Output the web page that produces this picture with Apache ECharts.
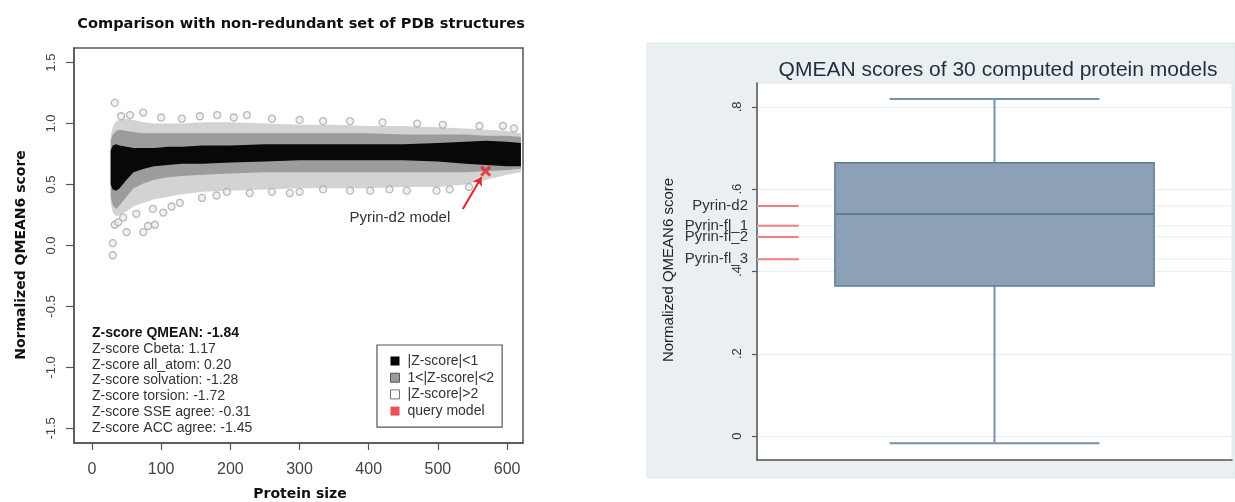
<!DOCTYPE html>
<html><head><meta charset="utf-8">
<script src="https://cdn.jsdelivr.net/npm/echarts@6/dist/echarts.min.js"></script>
<style>html,body{margin:0;padding:0;background:#fff}#c{width:1235px;height:502px}</style>
</head><body><div id="c"></div>
<script>
// ---------------- data ----------------
const leftTitle = 'Comparison with non-redundant set of PDB structures';
const rightTitle = 'QMEAN scores of 30 computed protein models';
const leftXName = 'Protein size';
const leftYName = 'Normalized QMEAN6 score';
const rightYName = 'Normalized QMEAN6 score';
const sizeTicks = [0, 100, 200, 300, 400, 500, 600];
const scoreTicks = [-1.5, -1.0, -0.5, 0.0, 0.5, 1.0, 1.5];

// envelope of the reference cloud (protein size -> score bounds)
const bandX   = [27, 30, 35, 40, 50, 60, 75, 90, 110, 130, 160, 200, 250, 300, 350, 400, 450, 500, 540, 570, 600, 620];
const outerHi = [0.90, 0.97, 1.02, 1.03, 1.04, 1.03, 1.01, 1.00, 1.00, 1.00, 1.01, 1.01, 1.00, 0.99, 0.99, 0.98, 0.98, 0.97, 0.96, 0.95, 0.94, 0.92];
const outerLo = [0.35, 0.27, 0.24, 0.25, 0.28, 0.32, 0.35, 0.38, 0.40, 0.42, 0.44, 0.45, 0.46, 0.47, 0.47, 0.47, 0.48, 0.48, 0.50, 0.54, 0.58, 0.60];
const midHi   = [0.86, 0.91, 0.94, 0.95, 0.94, 0.93, 0.92, 0.92, 0.92, 0.92, 0.92, 0.92, 0.92, 0.92, 0.92, 0.92, 0.91, 0.91, 0.91, 0.90, 0.90, 0.89];
const midLo   = [0.40, 0.33, 0.30, 0.33, 0.40, 0.47, 0.51, 0.54, 0.56, 0.57, 0.58, 0.59, 0.60, 0.60, 0.60, 0.60, 0.60, 0.60, 0.60, 0.61, 0.62, 0.63];
const coreHi  = [0.78, 0.82, 0.83, 0.82, 0.81, 0.80, 0.80, 0.80, 0.81, 0.81, 0.82, 0.82, 0.83, 0.83, 0.83, 0.83, 0.83, 0.84, 0.85, 0.86, 0.85, 0.84];
const coreLo  = [0.50, 0.46, 0.45, 0.47, 0.54, 0.60, 0.63, 0.65, 0.66, 0.67, 0.67, 0.68, 0.69, 0.70, 0.70, 0.70, 0.70, 0.69, 0.67, 0.66, 0.65, 0.65];
// individual structures outside the envelope
const outlierPoints = [
  [33, 1.17], [30, 0.02], [30, -0.08], [33, 0.17], [38, 0.19], [45, 0.23], [50, 0.11], [64, 0.26],
  [74, 0.11], [81, 0.16], [91, 0.17], [88, 0.30], [103, 0.27], [115, 0.32], [127, 0.35], [159, 0.39],
  [180, 0.41], [195, 0.44], [228, 0.43], [260, 0.44], [286, 0.43], [300, 0.44], [334, 0.46], [373, 0.45],
  [402, 0.45], [430, 0.46], [455, 0.45], [498, 0.45], [517, 0.46], [545, 0.48],
  [42, 1.06], [55, 1.07], [74, 1.09], [100, 1.05], [130, 1.04], [156, 1.06], [181, 1.07], [205, 1.05],
  [224, 1.07], [260, 1.04], [300, 1.03], [334, 1.02], [373, 1.02], [420, 1.01], [470, 1.00], [507, 0.99],
  [560, 0.98], [594, 0.98], [610, 0.96]
];
const queryModel = [569, 0.61];
const arrowFrom = [536, 0.30];
const arrowTo = [563, 0.56];
const queryLabel = 'Pyrin-d2 model';
const queryLabelAt = [445, 0.23];
const zScoreNames = ['Z-score QMEAN', 'Z-score Cbeta', 'Z-score all_atom', 'Z-score solvation', 'Z-score torsion', 'Z-score SSE agree', 'Z-score ACC agree'];
const zScoreValues = [-1.84, 1.17, 0.20, -1.28, -1.72, -0.31, -1.45];
const legendNames = ['|Z-score|<1', '1<|Z-score|<2', '|Z-score|>2', 'query model'];

// right panel: boxplot of 30 models
const qTicks = [0, 0.2, 0.4, 0.6, 0.8];
const boxStats = [-0.017, 0.365, 0.540, 0.664, 0.819]; // min, Q1, median, Q3, max
const pyrinNames = ['Pyrin-d2', 'Pyrin-fl_1', 'Pyrin-fl_2', 'Pyrin-fl_3'];
const pyrinScores = [0.559, 0.511, 0.484, 0.430];

// ---------------- chart ----------------
const chart = echarts.init(document.getElementById('c'), null, {renderer: 'canvas'});
const SANS = '"Liberation Sans", Arial, Helvetica, sans-serif';
const BOLD = '"DejaVu Sans", sans-serif';

function band(name, lo, hi, fill) {
  return {
    type: 'custom', name, xAxisIndex: 0, yAxisIndex: 0, silent: true,
    itemStyle: {color: fill},
    data: bandX.map((x, i) => [x, lo[i], hi[i]]),
    renderItem(params, api) {
      if (params.dataIndex !== 0) return null;
      const pts = [];
      for (let i = 0; i < bandX.length; i++) pts.push(api.coord([bandX[i], hi[i]]));
      for (let i = bandX.length - 1; i >= 0; i--) pts.push(api.coord([bandX[i], lo[i]]));
      return {type: 'polygon', shape: {points: pts}, style: {fill: fill}};
    }
  };
}
function txt(x, y, text, font, fill, align, rot) {
  return {type: 'text', x, y, rotation: rot || 0, style: {text, font, fill,
    textAlign: align || 'center', textVerticalAlign: 'middle', align: align || 'center', verticalAlign: 'middle'}};
}

const graphics = [
  {type: 'rect', z: -100, shape: {x: 647, y: 43, width: 588, height: 435},
   style: {fill: '#eaf0f2', stroke: '#e0e8eb', lineWidth: 1}},
  txt(301, 24, leftTitle, 'bold 14.6px ' + BOLD, '#111'),
  txt(300, 494, leftXName, 'bold 14px ' + BOLD, '#111'),
  txt(21, 255, leftYName, 'bold 14px ' + BOLD, '#111', 'center', Math.PI / 2),
  txt(998, 70, rightTitle, '21px ' + SANS, '#1e2f3e'),
  txt(669, 270, rightYName, '15px ' + SANS, '#222', 'center', Math.PI / 2)
];
zScoreNames.forEach((n, i) => {
  graphics.push(txt(92, 333 + i * 15.83, n + ': ' + zScoreValues[i].toFixed(2),
    (i === 0 ? 'bold ' : '') + '14px ' + SANS, i === 0 ? '#111' : '#333', 'left'));
});

const option = {
  animation: false,
  backgroundColor: '#fff',
  textStyle: {fontFamily: SANS},
  graphic: {elements: graphics},
  legend: {
    left: 377, top: 345, orient: 'vertical', selectedMode: false,
    padding: [9, 8, 9, 13], itemGap: 2.7, itemWidth: 9, itemHeight: 9,
    borderColor: '#555', borderWidth: 1.2, backgroundColor: '#fff',
    textStyle: {fontFamily: SANS, fontSize: 14, color: '#333', padding: [0, 0, 0, 3]},
    data: [
      {name: legendNames[0], icon: 'rect', itemStyle: {color: '#000'}},
      {name: legendNames[1], icon: 'rect', itemStyle: {color: '#9a9a9a', borderColor: '#555', borderWidth: 1}},
      {name: legendNames[2], icon: 'rect', itemStyle: {color: '#fff', borderColor: '#777', borderWidth: 1}},
      {name: legendNames[3], icon: 'rect', itemStyle: {color: '#e8202a'}}
    ]
  },
  grid: [
    {left: 74, top: 48, width: 449, height: 395, show: true, borderColor: '#555', borderWidth: 1.5, backgroundColor: 'transparent'},
    {left: 757, top: 83, width: 475, height: 377, show: true, borderColor: '#dfe8ec', borderWidth: 1, backgroundColor: '#fff'}
  ],
  xAxis: [
    {type: 'value', gridIndex: 0, min: -26, max: 623,
     axisLine: {show: true, onZero: false, lineStyle: {color: '#555', width: 1.5}},
     axisTick: {show: true, length: 7, customValues: sizeTicks, lineStyle: {color: '#555', width: 1.2}},
     axisLabel: {customValues: sizeTicks, margin: 19, fontFamily: SANS, fontSize: 16, color: '#444'},
     splitLine: {show: false}},
    {type: 'value', gridIndex: 1, min: 0, max: 1,
     axisLine: {show: true, onZero: false, lineStyle: {color: '#555', width: 1.5}},
     axisTick: {show: false}, axisLabel: {show: false}, splitLine: {show: false}}
  ],
  yAxis: [
    {type: 'value', gridIndex: 0, min: -1.62, max: 1.62,
     axisLine: {show: true, onZero: false, lineStyle: {color: '#555', width: 1.5}},
     axisTick: {show: true, length: 8, customValues: scoreTicks, lineStyle: {color: '#555', width: 1.2}},
     axisLabel: {customValues: scoreTicks, rotate: 90, margin: 16, fontFamily: SANS, fontSize: 13, color: '#444',
       formatter: v => v.toFixed(1)},
     splitLine: {show: false}},
    {type: 'value', gridIndex: 1, min: -0.058, max: 0.858,
     axisLine: {show: true, onZero: false, lineStyle: {color: '#555', width: 1.5}},
     axisTick: {show: true, length: 5, customValues: qTicks, lineStyle: {color: '#555', width: 1.2}},
     axisLabel: {customValues: qTicks, rotate: 90, margin: 13, fontFamily: SANS, fontSize: 13, color: '#333',
       formatter: v => v === 0 ? '0' : String(+v.toFixed(1)).replace(/^0/, '')},
     splitLine: {show: true, lineStyle: {color: '#e6eef1', width: 1}}}
  ],
  series: [
    band(legendNames[2], outerLo, outerHi, '#d3d3d3'),
    band(legendNames[1], midLo, midHi, '#9c9c9c'),
    band(legendNames[0], coreLo, coreHi, '#080808'),
    {type: 'scatter', name: legendNames[2], xAxisIndex: 0, yAxisIndex: 0, silent: true,
     symbol: 'circle', symbolSize: 7, data: outlierPoints,
     itemStyle: {color: 'rgba(235,235,235,0.9)', borderColor: '#a9a9a9', borderWidth: 1.3}},
    {type: 'scatter', name: legendNames[3], xAxisIndex: 0, yAxisIndex: 0, silent: true,
     symbol: 'path://M0,2L2,0L5,3L8,0L10,2L7,5L10,8L8,10L5,7L2,10L0,8L3,5Z', symbolSize: 11,
     itemStyle: {color: '#e8202a'}, data: [queryModel],
     markLine: {silent: true, symbol: ['none', 'arrow'], symbolSize: 8, animation: false,
       lineStyle: {color: '#e8202a', width: 2, type: 'solid'}, label: {show: false},
       data: [[{coord: arrowFrom}, {coord: arrowTo}]]},
     markPoint: {silent: true, symbol: 'circle', symbolSize: 0,
       label: {show: true, position: 'inside', formatter: queryLabel, fontFamily: SANS, fontSize: 15, color: '#333'},
       data: [{coord: queryLabelAt}]}},
    {type: 'custom', name: 'pyrin', xAxisIndex: 1, yAxisIndex: 1, silent: true, clip: false, z: 3,
     data: pyrinScores.map((v, i) => [0, v, i]),
     renderItem(params, api) {
       const v = api.value(1), i = api.value(2);
       const p0 = api.coord([0, v]), p1 = api.coord([1, v]), pr = api.coord([0.088, v]);
       return {type: 'group', children: [
         {type: 'line', shape: {x1: p0[0], y1: p0[1], x2: p1[0], y2: p1[1]}, style: {stroke: '#e6eef1', lineWidth: 1}},
         {type: 'line', shape: {x1: p0[0] + 1, y1: p0[1], x2: pr[0], y2: pr[1]}, style: {stroke: '#f08080', lineWidth: 2}},
         txt(p0[0] - 9, p0[1], pyrinNames[i], '15px ' + SANS, '#333', 'right')
       ]};
     }},
    {type: 'custom', name: 'box', xAxisIndex: 1, yAxisIndex: 1, silent: true, z: 5,
     data: [[0.5].concat(boxStats)],
     renderItem(params, api) {
       const x = api.value(0);
       const lo = api.coord([x, api.value(1)]), q1 = api.coord([x, api.value(2)]), md = api.coord([x, api.value(3)]),
             q3 = api.coord([x, api.value(4)]), hi = api.coord([x, api.value(5)]);
       const bw = api.size([0.672, 0])[0], cw = api.size([0.442, 0])[0];
       const wl = {stroke: '#7890aa', lineWidth: 2};
       return {type: 'group', children: [
         {type: 'line', shape: {x1: hi[0], y1: hi[1], x2: q3[0], y2: q3[1]}, style: wl},
         {type: 'line', shape: {x1: q1[0], y1: q1[1], x2: lo[0], y2: lo[1]}, style: wl},
         {type: 'line', shape: {x1: hi[0] - cw / 2, y1: hi[1], x2: hi[0] + cw / 2, y2: hi[1]}, style: wl},
         {type: 'line', shape: {x1: lo[0] - cw / 2, y1: lo[1], x2: lo[0] + cw / 2, y2: lo[1]}, style: wl},
         {type: 'rect', shape: {x: q3[0] - bw / 2, y: q3[1], width: bw, height: q1[1] - q3[1]},
          style: {fill: '#8ca0b6', stroke: '#5e7c98', lineWidth: 1.5}},
         {type: 'line', shape: {x1: md[0] - bw / 2, y1: md[1], x2: md[0] + bw / 2, y2: md[1]},
          style: {stroke: '#5e7c98', lineWidth: 2}}
       ]};
     }}
  ]
};
chart.setOption(option);
</script>
</body></html>
